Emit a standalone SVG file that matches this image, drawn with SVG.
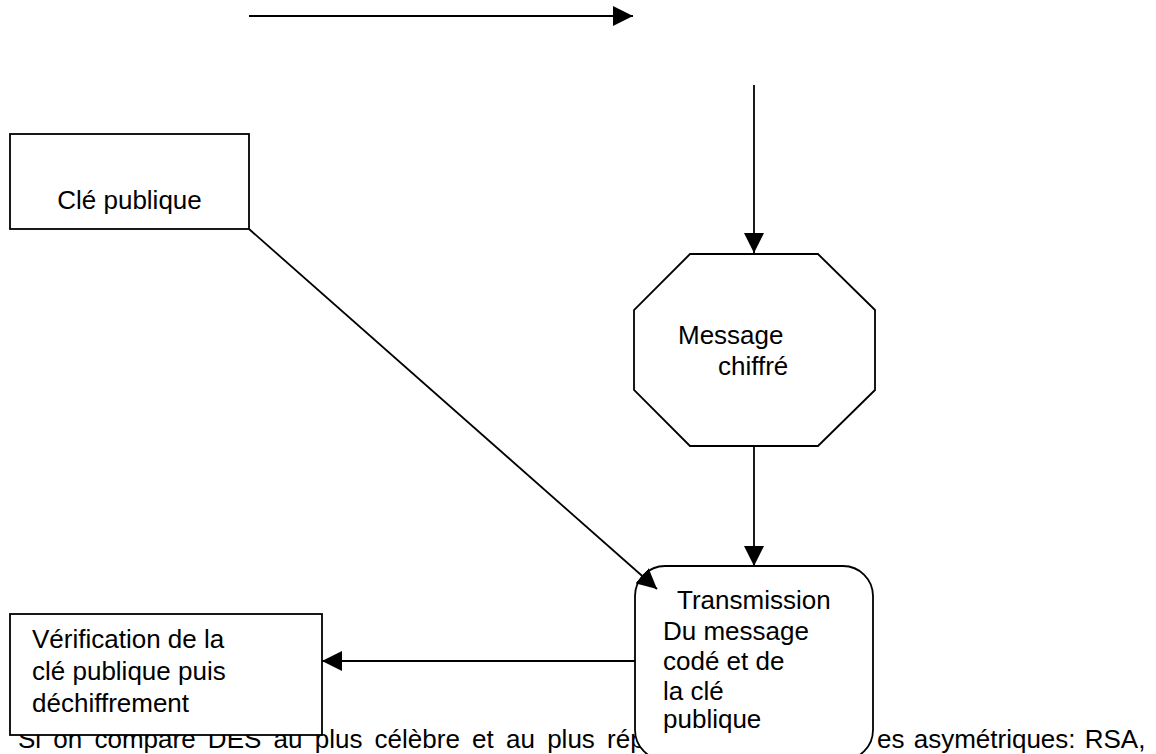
<svg xmlns="http://www.w3.org/2000/svg" width="1156" height="754" viewBox="0 0 1156 754">
<defs>
<style>
.t{font-family:"Liberation Sans",Arial,sans-serif;font-size:26px;fill:#000}
.s{fill:#fff;stroke:#000;stroke-width:1.8}
.c{fill:none;stroke:#000;stroke-width:1.8}
</style>
<marker id="ah" markerUnits="userSpaceOnUse" viewBox="0 0 20 20" refX="20" refY="10" markerWidth="20" markerHeight="20" orient="auto">
<path d="M0,0 L20,10 L0,20 Z" fill="#000"/>
</marker>
</defs>
<rect width="1156" height="754" fill="#fff"/>
<text class="t" x="18" y="748" word-spacing="5">Si on compare DES au plus célèbre et au plus rép</text>
<text class="t" x="877" y="748" word-spacing="2">es asymétriques: RSA,</text>
<g id="cle">
<rect class="s" x="10" y="134" width="239" height="95"/>
<text class="t" x="129.5" y="209" text-anchor="middle">Clé publique</text>
</g>
<g id="message">
<polygon class="s" points="690,254 818,254 875,310 875,390 818,446 690,446 634,390 634,310"/>
<text class="t" x="678" y="344">Message</text>
<text class="t" x="718" y="375">chiffré</text>
</g>
<g id="transmission">
<rect class="s" x="635" y="566" width="238" height="194" rx="30" ry="30"/>
<text class="t" x="677" y="609">Transmission</text>
<text class="t" x="663" y="640">Du message</text>
<text class="t" x="663" y="670">codé et de</text>
<text class="t" x="663" y="700">la clé</text>
<text class="t" x="663" y="728">publique</text>
</g>
<g id="verification">
<rect class="s" x="10" y="614" width="312" height="121"/>
<text class="t" x="32" y="648">Vérification de la</text>
<text class="t" x="32" y="680">clé publique puis</text>
<text class="t" x="32" y="712">déchiffrement</text>
</g>
<g id="connectors">
<line class="c" x1="249" y1="16" x2="633" y2="16" marker-end="url(#ah)"/>
<line class="c" x1="754" y1="85" x2="754" y2="253" marker-end="url(#ah)"/>
<line class="c" x1="754" y1="446" x2="754" y2="566" marker-end="url(#ah)"/>
<line class="c" x1="249" y1="229" x2="657" y2="589" marker-end="url(#ah)"/>
<line class="c" x1="635" y1="661" x2="322" y2="661" marker-end="url(#ah)"/>
</g>
</svg>
